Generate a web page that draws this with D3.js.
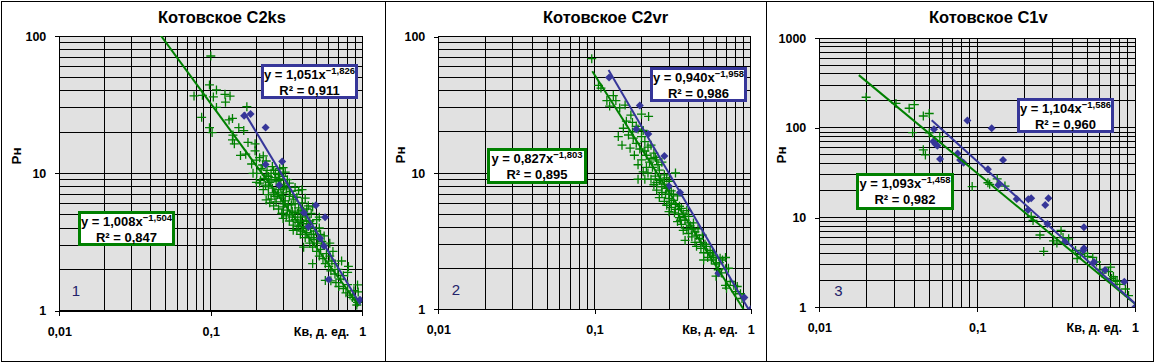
<!DOCTYPE html>
<html><head><meta charset="utf-8">
<script src="https://cdn.jsdelivr.net/npm/d3@7"></script>
<style>body{margin:0;background:#fff}svg{display:block}text{font-family:'Liberation Sans',Arial,sans-serif}</style>
</head><body><svg id="c" width="1155" height="363"></svg>
<script>
// ---------- data ----------
const titles = ["Котовское C2ks", "Котовское C2vr", "Котовское C1v"];
const panelNumbers = ["1", "2", "3"];
const xTickValues = [0.01, 0.1, 1];
const xTickLabels = ["0,01", "0,1", "1"];
const xAxisTitle = "Кв, д. ед.";
const yAxisTitle = "Рн";
const yTicksA = [1, 10, 100];
const yTicksB = [1, 10, 100, 1000];
const yTickLabelsA = ["1", "10", "100"];
const yTickLabelsB = ["1", "10", "100", "1000"];

const c2ksGreen = [[0.100,71.5],[0.098,44],[0.0775,36.6],[0.088,37],[0.104,36],[0.109,40.5],[0.124,37.6],[0.134,36.5],[0.125,33],[0.109,30.2],[0.087,25.6],[0.139,25.1],[0.132,24.5],[0.173,30.6],[0.153,21.5],[0.098,21.5],[0.102,19.8],[0.14,19],[0.165,20.5],[0.139,17.5],[0.143,16.4],[0.176,16.8],[0.196,16.4],[0.196,14.6],[0.157,13.5],[0.17,13.8],[0.186,11.7],[0.2,12.5],[0.21,13],[0.222,13.4],[0.232,12.3],[0.19,10],[0.215,10.8],
[0.201,10],[0.213,8.9],[0.232,9.7],[0.267,10],[0.279,8.9],[0.24,9.5],[0.25,9],[0.21,8.5],[0.23,8.2],[0.26,10.5],[0.28,9.8],[0.27,8.8],[0.3,9.5],[0.29,8.3],[0.32,9],[0.24,8],[0.2,8.6],[0.235,10.5],[0.255,11.2],[0.31,10.2],[0.33,8.5],
[0.222,7.6],[0.232,6.4],[0.24,7],[0.26,7.2],[0.28,7.6],[0.3,7.2],[0.25,6.5],[0.27,6.2],[0.29,6.6],[0.31,6.3],[0.33,6.8],[0.35,7],[0.38,7.5],[0.40,7.6],[0.26,5.8],[0.28,5.5],[0.3,5.7],[0.32,5.4],[0.34,5.9],[0.36,6],[0.38,5.6],[0.4,6.1],[0.44,5.8],[0.47,5.7],[0.3,5.1],[0.33,5],[0.36,5.2],[0.294,5.1],[0.35,6.5],[0.29,7.9],[0.37,6.7],[0.42,6.6],
[0.3,4.7],[0.33,4.5],[0.36,4.6],[0.39,4.8],[0.42,4.9],[0.45,4.5],[0.35,4.2],[0.38,4.1],[0.41,4.3],[0.44,4.1],[0.47,4.3],[0.4,3.8],[0.43,3.7],[0.46,3.6],[0.49,3.8],[0.52,4.0],[0.37,3.9],[0.5,4.6],[0.52,4.8],[0.35,3.85],[0.48,3.3],[0.51,3.4],[0.54,3.2],[0.42,3.4],[0.45,3.1],[0.56,3.5],[0.41,2.9],
[0.47,2.9],[0.5,2.7],[0.53,2.8],[0.56,3],[0.61,3.1],[0.52,2.5],[0.55,2.4],[0.58,2.6],[0.61,2.5],[0.64,2.7],[0.47,2.2],[0.57,2.2],[0.6,2.1],[0.63,2.3],[0.66,2.2],[0.73,2.3],[0.62,1.95],[0.66,1.85],[0.69,2],[0.81,2.1],[0.57,1.66],[0.62,1.65],[0.67,1.6],[0.72,1.7],[0.75,1.8],[0.8,1.9],[0.7,1.5],[0.75,1.45],[0.8,1.55],[0.93,1.54],[0.78,1.35],[0.83,1.3],[0.88,1.4],[0.94,1.37],[0.86,1.25],[0.9,1.2],[0.93,1.15],[0.92,1.1],
[0.225,9.2],[0.245,8.6],[0.265,9.3],[0.285,9.1],[0.305,8.1],[0.255,7.8],[0.275,7],[0.295,6.9],[0.315,7.7],[0.335,7.4],[0.245,6.1],[0.265,6.8],[0.305,6.0],[0.325,5.9],[0.345,5.3],[0.375,5.1],[0.395,5.4],[0.315,4.9],[0.345,4.8],[0.375,4.4],[0.395,4.5],[0.43,4.5],[0.455,4.0],[0.425,4.0],[0.39,3.6],[0.445,3.4],[0.475,3.6],[0.505,3.1],[0.53,3.6],[0.25,10],[0.285,10.8],[0.22,11.5],[0.3,11],[0.33,7.9],[0.36,7.9],[0.41,5.3],[0.43,5.5],[0.46,5.1]];
const c2ksBlue = [[0.166,26.3],[0.183,27.0],[0.230,21.6],[0.296,12.2],[0.230,11.6],[0.283,8.2],[0.412,5.17],[0.494,5.87],[0.568,4.79],[0.441,4.09],[0.526,3.37],[0.558,2.96],[0.600,1.69],[0.965,1.20]];

const c2vrGreen = [[0.096,69],[0.106,44],[0.11,42],[0.12,34],[0.132,37],[0.137,34],[0.125,31],[0.145,30],[0.157,31.5],[0.171,26.6],[0.222,26],[0.2,27],[0.16,24],[0.175,23.5],[0.153,21.3],[0.142,18.5],[0.177,18],[0.169,15.2],[0.15,16],[0.19,21],[0.185,16.5],[0.2,18.5],[0.195,15],[0.21,17],[0.22,15.5],[0.18,13.5],[0.2,12.5],[0.215,13.5],[0.225,12],[0.24,14],[0.235,11],[0.19,11.5],[0.205,10.2],[0.22,10],[0.25,12.5],[0.26,10.5],[0.23,9],[0.27,12],[0.245,9.5],[0.28,9.7],[0.21,9],[0.19,9],[0.33,10],
[0.24,8.2],[0.26,8.8],[0.28,8.3],[0.3,8.7],[0.25,7.5],[0.27,7.2],[0.29,7.7],[0.31,7.4],[0.26,6.6],[0.28,6.2],[0.3,6.5],[0.32,6.3],[0.34,6.8],[0.29,5.8],[0.31,5.6],[0.33,5.9],[0.35,5.7],[0.3,5.2],[0.325,5.1],[0.3,7],[0.35,4.7],[0.37,5],[0.39,5.3],[0.34,4.4],[0.36,4.2],[0.38,4.5],[0.4,4.8],[0.37,3.8],[0.39,3.9],[0.41,4.1],[0.43,4.3],[0.4,3.6],[0.42,3.4],[0.44,3.7],[0.46,3.9],[0.38,3.2],[0.44,3.1],[0.47,3.3],[0.49,3.5],[0.45,2.9],
[0.48,2.8],[0.5,2.6],[0.52,2.9],[0.55,2.7],[0.53,2.4],[0.56,2.3],[0.58,2.5],[0.637,2.37],[0.5,2.3],[0.6,2.15],[0.63,2.2],[0.66,2.3],[0.69,2.4],[0.62,1.95],[0.65,1.85],[0.69,1.98],[0.72,2],[0.6,1.75],[0.7,1.43],[0.74,1.6],[0.69,1.5],[0.78,1.5],[0.82,1.47],[0.8,1.35],[0.86,1.3],[0.88,1.2],
[0.21,14.5],[0.23,16],[0.245,13],[0.255,11.5],[0.215,11],[0.23,12.8],[0.265,9],[0.29,9.2],[0.25,8.5],[0.27,7.9],[0.285,7],[0.32,7],[0.31,6],[0.33,5.4],[0.36,5.5],[0.345,5],[0.355,4.5],[0.38,4.8],[0.4,4.3],[0.42,3.9],[0.45,3.5],[0.48,3.1],[0.51,3],[0.53,2.6],[0.57,2.6],[0.6,2.4],[0.175,20],[0.165,19],[0.185,22],[0.205,20.5]];
const c2vrBlue = [[0.124,50.3],[0.195,31.3],[0.185,20.9],[0.221,19.3],[0.280,13.3],[0.353,7.2],[0.30,8.0],[0.621,1.84],[0.911,1.22],[1.0,1.0]];

const c1vGreen = [[0.0198,220],[0.0306,188],[0.0371,166],[0.04,182],[0.0456,136],[0.0497,145],[0.039,88.7],[0.0456,57],[0.047,50],[0.0497,88],[0.058,80],[0.093,22.2],[0.117,24.5],[0.134,27],[0.15,22.5],[0.22,10.3],[0.226,9.3],[0.25,6.4],[0.264,4.2],[0.305,5.5],[0.34,7.2],[0.35,6],[0.38,5.8],[0.42,4.3],[0.43,3.5],[0.5,3.7],[0.54,3.6],[0.57,3.2],[0.6,2.65],[0.68,2.5],[0.7,2.8],[0.73,2.2],[0.77,1.95],[0.8,1.8],[0.87,1.6],[0.91,1.35],[0.71,2.1],[0.48,4.0],[0.12,23.5],[0.32,5.2],[0.45,3.9],[0.62,2.4],[0.75,2.0]];
const c1vBlue = [[0.0533,96.6],[0.0527,70.5],[0.0545,66],[0.056,63.5],[0.0582,45],[0.0867,121],[0.1236,99],[0.0752,52],[0.078,44],[0.082,41],[0.117,34.6],[0.136,23.1],[0.146,44],[0.178,16.1],[0.211,16],[0.22,16.5],[0.21,12.2],[0.27,13.8],[0.283,16.5],[0.279,8.5],[0.36,5.4],[0.475,7.8],[0.475,4.55],[0.47,4.3],[0.55,3.2],[0.646,2.6],[0.856,1.93],[1.0,1.0]];

// trendline parameters: [a, b, R2, xFrom, xTo]
const c2ksGreenFit = [1.008, -1.504, 0.847, 0.04, 0.95];
const c2ksBlueFit  = [1.051, -1.826, 0.911, 0.166, 0.97];
const c2vrGreenFit = [0.827, -1.803, 0.895, 0.0968, 0.9];
const c2vrBlueFit  = [0.940, -1.958, 0.986, 0.123, 1.0];
const c1vGreenFit  = [1.093, -1.458, 0.982, 0.0178, 1.0];
const c1vBlueFit   = [1.104, -1.586, 0.960, 0.0515, 1.0];

// ---------- layout ----------
const GREEN = "#008000", BLUE = "#363699", GRAY = "#e1e1e1";
const panels = [
  {L:59.3, R:362.3, T:36, B:310.7, yd:[1,100], yt:yTicksA, ytl:yTickLabelsA, green:c2ksGreen, blue:c2ksBlue, gf:c2ksGreenFit, bf:c2ksBlueFit,
   title:[222,23], ytitle:[16,156], num:[76,296], gbox:[78,211,175,246], bbox:[261,64,358,99]},
  {L:438.3, R:750.7, T:36.7, B:309.3, yd:[1,100], yt:yTicksA, ytl:yTickLabelsA, green:c2vrGreen, blue:c2vrBlue, gf:c2vrGreenFit, bf:c2vrBlueFit,
   title:[605.5,23], ytitle:[400.5,155], num:[456,295], gbox:[487,148,587,184], bbox:[650,67,747,102]},
  {L:819.3, R:1135, T:38.3, B:307.3, yd:[1,1000], yt:yTicksB, ytl:yTickLabelsB, green:c1vGreen, blue:c1vBlue, gf:c1vGreenFit, bf:c1vBlueFit,
   title:[988.3,23.3], ytitle:[781.5,155], num:[838.5,296], gbox:[856,173,954,210], bbox:[1017,98,1114,133]}
];

const svg = d3.select("#c");
svg.append("rect").attr("x",1.5).attr("y",1.5).attr("width",1152).attr("height",360)
  .attr("fill","#fff").attr("stroke","#000");
[385.5, 766.5].forEach(xv => svg.append("line").attr("x1",xv).attr("x2",xv).attr("y1",1.5).attr("y2",361.5).attr("stroke","#000"));

const fmt = v => d3.format(".3f")(v).replace(".", ",");

panels.forEach((p, i) => {
  const x = d3.scaleLog().domain([0.01, 1]).range([p.L, p.R]);
  const y = d3.scaleLog().domain(p.yd).range([p.B, p.T]);
  const g = svg.append("g");
  g.append("rect").attr("x",p.L).attr("y",p.T).attr("width",p.R-p.L).attr("height",p.B-p.T).attr("fill",GRAY);

  const gridVals = dom => {
    const out = [];
    for (let e = Math.round(Math.log10(dom[0])); e < Math.round(Math.log10(dom[1])); e++)
      for (let k = 1; k <= 9; k++) out.push(k * Math.pow(10, e));
    out.push(dom[1]);
    return out;
  };
  const grid = g.append("g").attr("stroke","#000").attr("stroke-width",1).attr("shape-rendering","crispEdges");
  gridVals([0.01,1]).forEach(v => grid.append("line").attr("x1",x(v)).attr("x2",x(v)).attr("y1",p.T).attr("y2",p.B));
  gridVals(p.yd).forEach(v => grid.append("line").attr("x1",p.L).attr("x2",p.R).attr("y1",y(v)).attr("y2",y(v)));

  const ya = g.append("g").attr("transform",`translate(${p.L},0)`)
    .call(d3.axisLeft(y).tickValues(p.yt).tickSize(4).tickSizeOuter(0).tickPadding(9).tickFormat((d,j)=>p.ytl[j]));
  const xa = g.append("g").attr("transform",`translate(0,${p.B})`)
    .call(d3.axisBottom(x).tickValues(xTickValues).tickSize(5).tickSizeOuter(0).tickFormat((d,j)=>xTickLabels[j]));
  [ya, xa].forEach(a => {
    a.selectAll("path,line").attr("stroke","#000").attr("shape-rendering","crispEdges");
    a.selectAll("text").attr("font-size",12.5).attr("font-weight","bold").attr("font-family","'Liberation Sans',Arial,sans-serif").attr("fill","#000");
  });
  xa.selectAll("text").attr("dy",null).attr("y",25);

  g.append("text").attr("x",p.R-13).attr("y",p.B+25).attr("text-anchor","end").attr("font-size",12.5).attr("font-weight","bold").text(xAxisTitle);
  g.append("text").attr("transform",`translate(${p.ytitle[0]},${p.ytitle[1]}) rotate(-90)`)
    .attr("text-anchor","middle").attr("dominant-baseline","central").attr("font-size",13.5).attr("font-weight","bold").text(yAxisTitle);
  g.append("text").attr("x",p.title[0]).attr("y",p.title[1]).attr("text-anchor","middle")
    .attr("font-size",16.5).attr("font-weight","bold").text(titles[i]);
  g.append("text").attr("x",p.num[0]).attr("y",p.num[1]).attr("text-anchor","middle")
    .attr("font-size",15).attr("fill","#22226a").text(panelNumbers[i]);

  const cid = "clip" + i;
  svg.append("clipPath").attr("id",cid).append("rect").attr("x",p.L).attr("y",p.T).attr("width",p.R-p.L).attr("height",p.B-p.T);
  const plot = g.append("g").attr("clip-path",`url(#${cid})`);

  plot.selectAll(".gp").data(p.green).join("path").attr("class","gp")
    .attr("transform", d => `translate(${x(d[0])},${y(d[1])})`)
    .attr("d","M-4.5,0H4.5M0,-4.5V4.5").attr("stroke",GREEN).attr("stroke-width",1.3).attr("fill","none");
  plot.selectAll(".bp").data(p.blue).join("path").attr("class","bp")
    .attr("transform", d => `translate(${x(d[0])},${y(d[1])})`)
    .attr("d","M0,-4L4,0L0,4L-4,0Z").attr("fill",BLUE);

  const line = d3.line().x(d => x(d[0])).y(d => y(d[1]));
  [[p.gf, GREEN], [p.bf, BLUE]].forEach(([f, col]) => {
    const pts = [f[3], f[4]].map(xv => [xv, f[0] * Math.pow(xv, f[1])]);
    plot.append("path").attr("d", line(pts)).attr("stroke", col).attr("stroke-width", 2).attr("fill", "none");
  });

  [[p.gbox, p.gf, GREEN], [p.bbox, p.bf, BLUE]].forEach(([b, f, col]) => {
    g.append("rect").attr("x",b[0]+1.5).attr("y",b[1]+1.5).attr("width",b[2]-b[0]-3).attr("height",b[3]-b[1]-3)
      .attr("fill","#fff").attr("stroke",col).attr("stroke-width",3);
    const cx = (b[0]+b[2])/2;
    const t1 = g.append("text").attr("x",cx).attr("y",b[1]+15).attr("text-anchor","middle").attr("font-size",13).attr("font-weight","bold");
    t1.append("tspan").text("y = " + fmt(f[0]) + "x");
    t1.append("tspan").attr("font-size",9.5).attr("dy",-5).text(fmt(f[1]));
    g.append("text").attr("x",cx).attr("y",b[1]+31).attr("text-anchor","middle").attr("font-size",13).attr("font-weight","bold")
      .text("R² = " + fmt(f[2]));
  });
});
</script></body></html>
